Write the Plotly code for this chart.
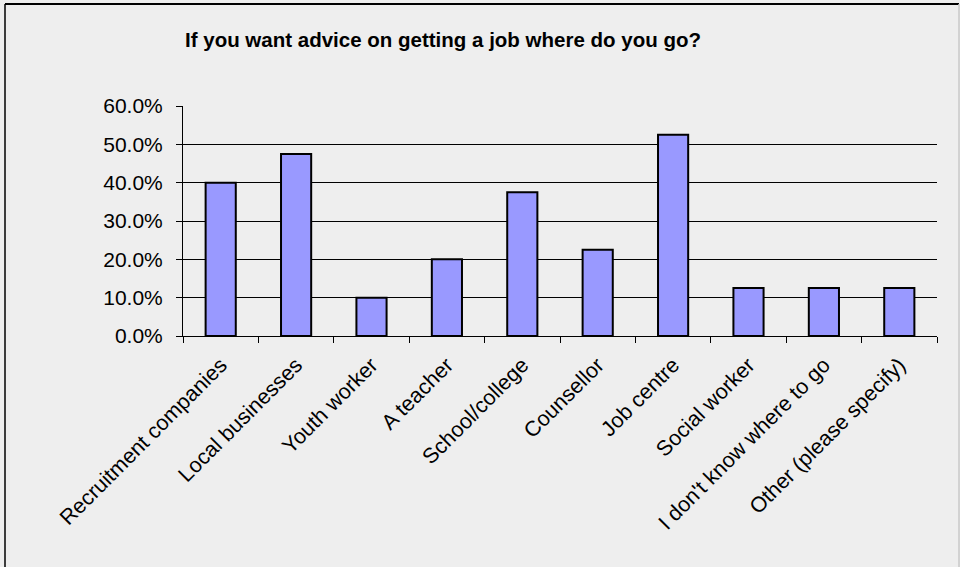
import plotly.graph_objects as go

categories = ["Recruitment companies", "Local businesses", "Youth worker", "A teacher",
              "School/college", "Counsellor", "Job centre", "Social worker",
              "I don't know where to go", "Other (please specify)"]
values = [0.400, 0.475, 0.100, 0.200, 0.375, 0.225, 0.525, 0.125, 0.125, 0.125]
y_ticks = [0.0, 0.1, 0.2, 0.3, 0.4, 0.5, 0.6]
title_text = "If you want advice on getting a job where do you go?"

FONT = "Liberation Sans, Arial, sans-serif"
L, R, T, B = 183, 23, 106, 231
W, H = 960, 567
pw, ph = W - L - R, H - T - B

def px_x(p):
    return (p - L) / pw

def px_y(p):
    return (H - B - p) / ph

fig = go.Figure(go.Bar(
    x=categories, y=values,
    marker=dict(color="#9999ff", line=dict(color="#000000", width=2)),
))

fig.update_layout(
    width=W, height=H,
    margin=dict(l=L, r=R, t=T, b=B, autoexpand=False),
    paper_bgcolor="#eeeeee", plot_bgcolor="#eeeeee",
    bargap=0.6, showlegend=False,
    font=dict(family=FONT, color="#000000"),
    title=dict(text="<b>" + title_text + "</b>", x=443 / W, xanchor="center",
               y=1 - 40 / H, yanchor="middle",
               font=dict(size=20.5, family=FONT, color="#000000")),
    shapes=[
        dict(type="line", xref="paper", yref="paper", x0=px_x(5), x1=px_x(959),
             y0=px_y(4), y1=px_y(4), line=dict(color="#000000", width=2)),
        dict(type="line", xref="paper", yref="paper", x0=px_x(5), x1=px_x(5),
             y0=px_y(4), y1=px_y(572), line=dict(color="#000000", width=1.5)),
        dict(type="line", xref="paper", yref="paper", x0=px_x(959), x1=px_x(959),
             y0=px_y(4), y1=px_y(572), line=dict(color="#c8c8c8", width=1.5)),
    ],
)

fig.update_xaxes(
    type="category", tickangle=-45, tickfont=dict(size=21.5, family=FONT, color="#000000"),
    showline=True, linecolor="#000000", linewidth=1,
    ticks="outside", tickson="boundaries", ticklen=6, tickcolor="#000000",
    ticklabelstandoff=7,
    showgrid=False, automargin=False,
)
fig.update_yaxes(
    range=[0, 0.6], tickvals=y_ticks, tickformat=".1%",
    tickfont=dict(size=21, family=FONT, color="#000000"),
    showline=True, linecolor="#000000", linewidth=1,
    ticks="outside", ticklen=6, tickcolor="#000000",
    ticklabelstandoff=9,
    showgrid=True, gridcolor="#000000", gridwidth=1,
    zeroline=False, automargin=False,
)

fig.write_html("out.html", config={"displayModeBar": False},
               post_script="document.body.style.margin='0';document.body.style.overflow='hidden';")
